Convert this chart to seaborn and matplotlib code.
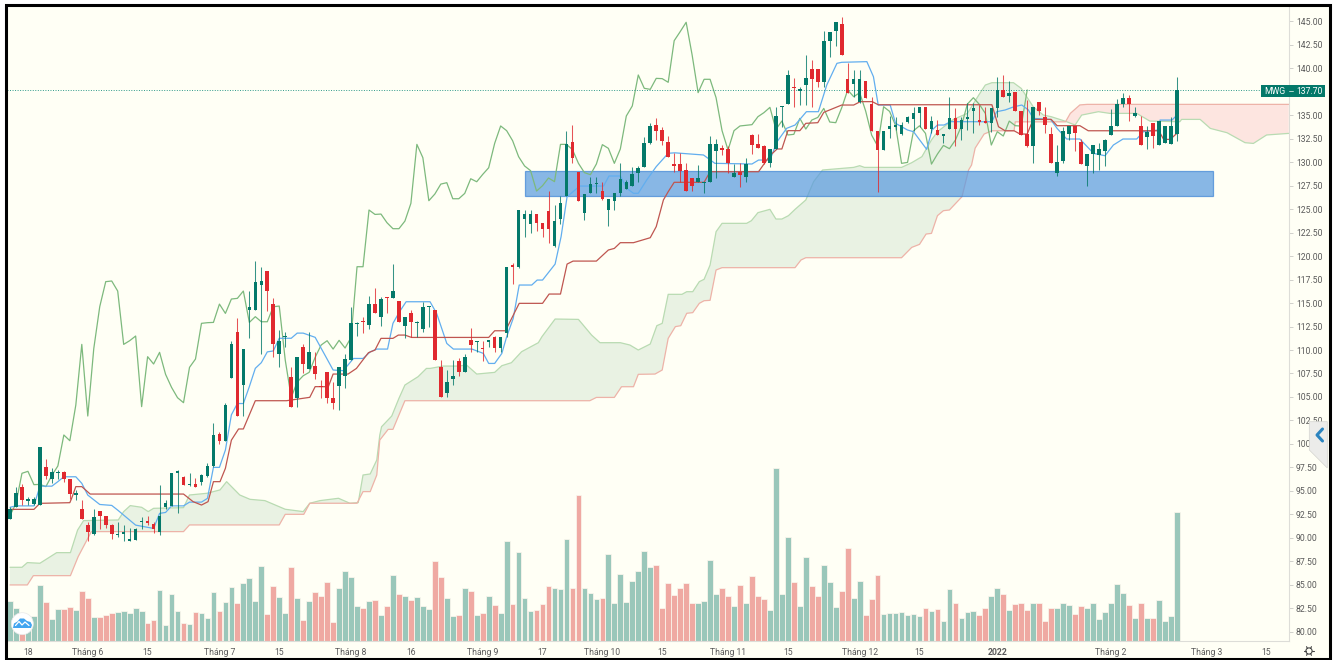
import numpy as np
import pandas as pd
import seaborn as sns
import matplotlib
matplotlib.use("Agg")
import matplotlib.pyplot as plt
import matplotlib.transforms as mtrans
from matplotlib.patches import Rectangle, Polygon, Circle
from matplotlib.lines import Line2D

# OHLC, one value per session
opens = [91.97,93.32,95.38,93.95,93.60,93.49,97.58,96.26,96.87,97.01,96.30,94.56,93.03,91.36,90.41,92.89,92.36,91.36,90.30,90.41,
         89.69,89.77,91.65,91.75,91.51,90.65,93.32,93.39,96.94,96.44,95.59,95.73,95.98,96.62,97.65,101.02,100.31,106.98,111.95,106.27,
         114.26,114.26,116.89,118.41,114.90,109.54,111.35,107.09,104.92,110.28,107.98,108.33,106.16,107.62,104.85,106.16,107.26,108.93,112.76,113.05,
         112.66,114.89,113.55,115.60,115.57,115.21,112.55,113.94,112.87,112.27,114.54,114.26,108.22,105.45,106.94,108.86,107.69,111.06,110.85,110.24,
         110.89,111.34,110.21,111.77,119.01,118.80,123.91,123.41,124.44,123.56,124.83,121.07,123.95,126.43,132.11,128.92,124.55,126.68,127.67,126.93,
         124.91,125.90,126.68,127.18,127.46,128.88,129.45,132.08,133.93,133.43,132.12,129.81,129.81,129.17,128.28,127.93,127.79,127.93,131.16,131.48,
         131.41,128.46,128.92,128.39,132.93,131.90,131.73,129.88,131.41,135.84,136.16,138.01,137.62,138.22,139.89,139.89,138.51,142.91,143.97,144.68,
         138.83,138.33,136.45,138.68,136.20,133.36,131.30,133.54,133.79,133.00,134.28,134.57,135.28,135.84,133.54,133.39,132.83,133.54,134.67,133.53,
         134.56,135.45,134.49,134.38,134.21,135.80,137.69,137.05,137.44,135.45,133.00,131.72,136.37,134.85,132.96,128.88,130.12,132.96,133.88,132.11,
         129.59,130.87,130.76,131.22,132.93,133.85,136.19,136.87,134.92,133.85,132.64,134.14,131.83,132.08,131.93,132.96]
closes = [93.03,94.74,94.03,94.10,94.10,99.63,96.58,96.97,97.01,96.30,94.66,94.74,91.97,90.65,92.18,92.36,91.36,90.41,90.44,90.62,
          89.84,90.97,91.79,91.61,90.97,92.36,93.67,96.87,97.08,95.66,95.69,95.45,96.65,97.65,100.95,100.34,104.14,110.60,102.97,110.14,
          114.62,117.28,117.35,116.28,110.60,110.99,111.49,103.97,109.29,108.51,109.75,107.41,106.02,104.92,104.39,108.15,109.04,112.84,112.91,112.94,
          114.89,113.90,115.43,115.50,116.28,112.94,113.55,113.01,113.01,114.61,114.68,108.93,104.95,106.59,107.26,107.62,109.22,110.53,110.99,110.10,
          111.03,110.21,111.34,118.87,118.87,124.91,124.44,124.48,123.56,122.92,122.92,123.73,125.62,131.90,130.48,125.90,126.61,127.67,127.82,126.11,
          126.11,126.68,128.24,127.92,128.70,129.41,132.01,133.86,133.36,132.29,130.59,129.60,129.10,126.93,127.50,128.32,127.93,131.90,131.90,131.34,
          129.88,128.89,128.67,129.81,131.87,131.48,129.88,131.41,134.92,135.99,139.29,137.87,137.76,138.93,138.90,138.51,142.94,143.90,144.90,141.42,
          137.41,138.83,138.83,136.87,133.36,131.30,133.36,133.86,133.93,134.00,134.85,135.28,135.84,133.50,134.39,132.90,132.97,134.67,133.53,134.49,
          134.77,135.73,134.28,134.21,135.80,137.69,136.98,137.40,135.45,132.89,131.72,135.91,135.41,133.92,129.88,129.98,133.35,133.88,133.07,129.80,
          130.87,131.79,131.44,132.36,133.85,136.19,136.87,136.16,135.20,131.83,133.25,132.79,134.38,133.89,133.85,137.70]
highs = [93.32,95.38,95.69,94.31,94.31,99.63,98.36,97.40,97.22,97.15,96.30,95.09,94.03,91.72,93.03,92.89,92.36,91.47,91.72,91.36,
         91.01,91.08,92.25,92.32,91.72,95.62,94.03,96.87,97.22,96.58,96.94,96.33,96.79,97.93,102.19,101.30,104.32,110.99,113.37,110.14,
         116.32,119.48,118.88,118.41,115.50,112.13,111.95,108.23,109.29,110.64,111.92,109.82,106.80,107.62,106.55,108.15,109.57,114.61,112.94,113.55,
         115.75,116.56,115.68,115.68,119.12,115.21,113.55,114.26,113.08,115.14,114.72,114.26,108.93,107.87,108.93,109.11,109.53,112.30,110.99,110.95,
         111.06,111.49,111.42,118.87,119.23,124.91,124.91,124.91,124.44,123.56,126.96,125.44,126.40,133.32,133.96,128.92,126.61,128.38,128.46,127.85,
         126.11,126.75,129.95,128.10,129.45,129.59,132.72,134.14,134.67,133.71,132.79,130.95,130.95,129.88,128.28,129.70,127.93,132.79,132.44,131.83,
         131.73,129.81,129.88,130.48,133.00,132.97,131.83,131.41,135.92,135.99,139.82,138.93,138.05,141.42,140.89,139.89,144.01,143.90,144.90,145.43,
         140.60,139.82,139.82,138.68,136.91,133.36,133.36,134.92,134.85,134.32,134.92,135.92,135.84,135.84,134.92,134.50,132.97,136.91,135.73,134.85,
         136.27,136.27,136.09,135.91,135.80,139.03,139.28,138.68,137.44,135.45,136.62,135.91,136.44,135.91,133.78,131.83,133.78,133.88,133.88,132.47,
         130.87,131.79,132.01,132.43,135.63,136.73,137.40,137.15,135.91,134.92,133.85,134.14,134.38,133.89,134.85,139.11]
lows = [91.97,93.24,93.49,93.49,93.49,93.49,96.23,95.80,96.23,95.98,94.10,94.03,91.97,89.69,90.30,90.97,91.01,89.84,90.12,89.69,
        89.69,89.77,90.90,91.36,90.55,90.30,93.03,93.39,92.61,95.66,95.52,95.38,95.59,96.44,97.58,99.99,100.31,106.98,102.97,102.97,
        111.24,114.26,109.57,114.19,109.22,108.23,110.36,103.97,103.97,107.59,107.98,106.88,104.85,104.32,103.68,103.61,105.91,108.93,111.49,111.84,
        112.23,113.90,112.55,113.90,115.57,112.94,111.24,111.42,111.42,111.95,112.48,108.93,104.95,104.95,106.27,107.23,107.69,109.82,109.82,108.86,
        110.35,109.82,109.75,111.34,117.02,118.69,121.99,122.42,122.70,122.07,121.36,121.00,123.41,126.40,129.95,125.90,123.84,126.68,126.68,125.97,
        123.20,124.91,126.40,127.14,127.46,127.92,129.45,131.94,132.37,131.83,130.52,128.99,127.93,126.93,126.93,127.89,126.76,127.93,128.35,130.77,
        128.89,128.39,127.40,127.89,130.87,131.48,129.81,129.45,131.41,133.79,136.16,135.84,136.09,136.09,135.92,137.97,137.97,141.17,142.38,141.42,
        137.34,136.98,136.34,136.80,133.36,126.79,131.30,132.54,133.43,132.90,134.14,133.36,133.79,133.50,133.08,132.90,132.01,133.54,131.72,132.36,
        133.43,133.07,133.96,134.21,133.25,134.85,136.98,136.44,135.45,132.89,131.65,129.88,135.02,133.07,129.88,128.53,129.88,132.36,131.22,129.80,
        127.46,128.88,129.17,129.59,132.93,133.85,135.91,134.38,134.85,131.83,131.37,131.47,131.83,132.01,131.93,132.29]
volumes = [119,100,70,60,75,168,117,66,96,96,102,92,151,130,72,72,77,83,87,89,
           83,100,89,55,62,153,49,141,89,55,51,87,83,68,147,89,117,162,115,174,
           189,121,225,81,166,132,83,221,128,64,119,147,136,177,57,158,210,193,104,100,
           119,123,78,106,198,141,134,123,132,104,96,240,192,128,75,77,159,151,77,83,
           134,108,83,300,111,268,129,89,93,111,164,159,155,306,158,439,159,144,125,129,
           260,113,200,117,179,209,270,223,228,100,174,138,159,174,113,113,119,243,142,159,
           136,104,168,115,194,134,126,93,520,142,311,177,104,251,164,134,228,177,102,151,
           279,129,179,77,126,198,81,85,85,87,79,81,75,98,89,96,59,155,113,70,
           87,91,79,100,136,159,140,93,111,113,93,113,113,59,100,100,115,108,81,104,
           98,115,66,87,113,172,144,108,68,115,70,70,123,59,75,386]

# ichimoku lines, vertices as (bar, price)
tenkan_x = [0,1,4,5,7,8,9,11,12,13,15,17,18,21,24,25,26,27,29,30,32,33,34,35,36,37,38,39,40,41,42,43,44,45,47,48,49,51,54,55.7,57.4,59,60.2,61.3,63.1,64,65.1,66.2,70.2,71.3,73,74.1,77.2,79.1,80,81,82.2,83,84.1,85.1,87.2,88.1,89,91.1,92.1,93.1,95.2,99.2,100.1,102,103.1,104.2,105,106.4,108,110,111.1,115.9,117.8,124,125.1,127,128.2,129.8,131.2,133.1,135.1,136.5,138.2,139,143.2,144.3,145.1,147.1,148,150,151,153.2,154.1,155,156.1,157.2,163,164.1,164.9,166.3,167.8,169.1,170.2,171,173.9,175,176.6,178.8,181.1,183,184.4,186,188.3,189.4,192,192.2,194.2,195]
tenkan_y = [93.25,93.4,93.4,95.5,95.5,95.98,96.5,96.5,95.8,94.55,93.55,93.45,92.95,91.35,91.0,92.6,92.7,93.4,93.4,93.8,93.8,94.2,97.5,97.5,99.35,103.1,104.3,104.3,106.1,108.05,108.65,109.8,109.9,111.25,111.25,111.8,111.8,111.35,107.87,107.8,109.1,109.1,109.8,110.1,110.1,112.84,114.08,115.14,115.14,113.9,110.7,110.1,110.1,109.64,108.57,108.57,109.64,111.4,113.37,116.92,116.92,117.45,117.45,119.15,122.07,126.32,127.46,127.46,128.53,128.53,127.2,126.69,126.69,128.1,129.53,130.95,131,130.77,129.88,129.81,130.23,130.23,132.19,133.61,133.96,135.38,135.38,138.22,140.53,140.64,140.71,139.11,136.09,136.09,134.14,133.43,133.25,131.37,133.43,133.96,133.96,134.32,134.31,134.31,135.38,135.56,135.91,136.09,135.56,134.67,134.56,133.6,132.47,132.47,130.94,130.69,131.83,132.47,132.47,133.25,133.43,134.49,134.49,135.0]
kijun_x = [0,4,5,10,10.3,11,12,13.4,29,30.6,32,33.1,34,35.1,36,37,38.2,39,41,46.2,50.1,51,53.2,54,56.5,57.9,59.9,61,62,64,64.9,66,67.1,80,81,82.8,85.1,89,90.1,92,93.1,94.1,98,100,101,102,104.2,107,108,109.2,110,111,116,117,125.1,127,128.2,129,130,132,133,135,136,139,141,142.1,144.1,145.1,164.1,165.2,166.3,167.8,168.8,170,171,174,175,178.8,180.2,192,192.8,193.9,195]
kijun_y = [93.03,93.03,93.67,93.74,94.2,95.45,95.45,94.66,94.66,93.85,93.49,93.85,95.98,95.98,97.4,100.4,101.59,101.59,104.6,104.6,104.96,106.1,106.09,107.44,107.44,108.04,109.71,110,111.24,111.24,111.59,111.59,111.34,111.34,112.05,112.05,114.97,114.97,115.96,115.96,119.15,119.47,119.47,120.65,120.82,121.43,121.43,121.96,123.14,125.98,126.86,127.86,127.86,128.99,128.99,130.7,131.41,131.41,133.36,133.36,134.14,134.21,135.31,136.09,136.09,136.45,136.45,136.12,136.12,133.78,133.35,133.35,133,133,134.56,134.56,133.89,133.89,133.35,133.35,132.43,132.43,133.07]
span_a_x = [0,2,2.9,5,7.8,10.1,11.3,12.3,18.1,19,20.1,22,23.1,24,29,30,32.9,35.1,36.2,38.4,40.1,42.6,46,49,50.1,51.8,54.9,56.8,58.2,59,60.2,61.3,61.8,62.1,63.8,65,66,68.2,69.6,70.2,72.4,74.9,76.3,78,81,82.2,83.8,85.5,88.3,88.9,91.1,95,97.2,98.6,102,103.6,105,107,108.1,109,110,112.3,113.1,114.1,115.2,116,117,118,119,123.1,123.9,125,127,128,129,130.1,131.2,133,134.3,135.8,141,142,142.8,149,150.7,152.4,154,155,157.7,160,161.9,163,164.1,167.7,169,171,172.7,174,176.3,178,179.1,181.9,183.8,188.3,190.5,195.5,195.8,198.9,200.6,203.4,206.4,207.8,210,213.7]
span_a_y = [86.86,86.86,87.36,87.29,88.42,88.42,90.83,91.83,91.9,92.79,93.43,93.25,92.79,93.14,93.21,94.56,94.74,95.1,95.98,94.56,94.1,93.96,93.04,92.79,93.68,93.96,94.21,93.68,93.75,96.69,96.8,98.29,100.94,101.83,102.97,104.85,106.27,107.16,108.04,108.04,108.29,108.29,108.4,107.44,107.62,108.33,108.65,109.82,110.78,111.42,113.3,113.26,111.59,110.78,110.78,110.53,110,110.64,112.59,112.84,115.93,115.93,116.21,116.21,117.28,117.53,119.05,122.6,123.49,123.49,123.77,124.63,124.98,123.95,123.95,124.31,124.98,125.98,127.93,129.17,129.45,129.63,129.45,129.45,129.95,130.59,132.37,133.25,134.57,135.2,137.15,138.22,138.47,138.47,137.86,135.91,135.02,134.85,134.38,133.96,135.02,135.38,135.2,135.2,134.38,134.31,134.56,134.56,133.6,133.14,132.08,132.0,132.9,133.07]
span_b_x = [0,2.9,3.9,10.1,11.4,13.6,29,30,45,46,49.1,50.1,58,59,60.2,61.3,61.8,63.2,64,66,96.9,98,101,102.2,104.2,105,107.8,109,110,111.2,112.1,113.1,114.1,115.2,116,117,118,119,131.2,132.2,133,149,150.7,152,153.1,154,155,156,157,159.1,160.2,160.7,161.3,162.8,164.1,167.8,168,176.4,177.2,178.8,180,213.7]
span_b_y = [84.98,84.98,85.97,85.97,88,90.66,90.66,91.37,91.37,92.5,92.5,93.68,93.68,94.92,94.92,96.69,100.41,101.55,101.55,104.6,104.6,104.95,104.95,106.09,106.09,107.41,107.44,107.87,111.24,112.49,112.59,113.91,113.98,114.97,115.25,115.29,118.52,118.77,118.77,119.59,119.83,119.83,120.93,121.25,122.35,122.42,124.31,124.84,124.91,126.33,129.17,129.7,131.5,133,133.35,133.35,134.3,134.3,135.2,136.1,136.16,136.16]

price_ticks = np.arange(80, 145.1, 2.5)
date_pos = [3,13,23,35,45,57,67,79,89,99,109,120,130,142,152,165,184,200,210]
date_labels = ["18","Tháng 6","15","Tháng 7","15","Tháng 8","16","Tháng 9","17","Tháng 10","15","Tháng 11","15","Tháng 12","15","2022","Tháng 2","Tháng 3","15"]

BG = "#FFFFF5"
UP = "#04796A"
DOWN = "#E0292F"

sns.set_theme(style="white")
plt.rcParams["font.family"] = ["Roboto", "DejaVu Sans"]

W, H = 1338, 660
fig = plt.figure(figsize=(W / 100, H / 100), dpi=100, facecolor="white")
px = mtrans.Affine2D().scale(1 / W, -1 / H).translate(0, 1) + fig.transFigure

fig.add_artist(Rectangle((5, 5), 1325, 653, transform=px, facecolor=BG, edgecolor="none", zorder=-1))

rect = [7 / W, 1 - 641 / H, (1288.7 - 7) / W, 634 / H]
ax_vol = fig.add_axes(rect, zorder=1)
ax = fig.add_axes(rect, zorder=2)
ax.patch.set_alpha(0)
ax_vol.patch.set_alpha(0)

x_range = (-0.5, 213.7)

# volume, one call per direction so the bars stay centred on their session
bars = np.arange(len(closes))
df = pd.DataFrame({"bar": bars, "vol": volumes,
                   "dir": ["up" if c >= o else "down" for o, c in zip(opens, closes)]})
for d, col in (("up", "#9AC7BA"), ("down", "#EFA9A2")):
    sns.barplot(data=df[df["dir"] == d], x="bar", y="vol", native_scale=True, width=0.96,
                color=col, saturation=1, linewidth=0.55, edgecolor="#FBF6EC", ax=ax_vol)
ax_vol.set_xlim(*x_range)
ax_vol.set_ylim(0, 634 * 3)
ax_vol.axis("off")

# cloud
a_x, a_y, b_x, b_y = map(np.array, (span_a_x, span_a_y, span_b_x, span_b_y))
cross = 176.4
ma, mb = a_x <= cross, b_x <= cross
ax.fill(np.r_[a_x[ma], b_x[mb][::-1]], np.r_[a_y[ma], b_y[mb][::-1]], color="#E9F2E3", lw=0, zorder=1)
ma, mb = a_x >= cross - 0.1, b_x >= cross
ax.fill(np.r_[a_x[ma], b_x[mb][::-1]], np.r_[a_y[ma], b_y[mb][::-1]], color="#FDE5E0", lw=0, zorder=1)
sns.lineplot(x=a_x, y=a_y, estimator=None, sort=False, color="#B9DBB2", linewidth=0.9, zorder=1.2, ax=ax)
sns.lineplot(x=b_x, y=b_y, estimator=None, sort=False, color="#EDB3A8", linewidth=0.9, zorder=1.2, ax=ax)

# blue zone
ax.add_patch(Rectangle((86.08, 126.43), 114.92, 2.66, facecolor="#5B9BE0", alpha=0.72,
                       edgecolor="#3F86D6", lw=0.9, zorder=2))

# lagging line is the close drawn 25 sessions back
sns.lineplot(x=bars[:-25], y=closes[25:], estimator=None, sort=False, color="#7DB97D", linewidth=0.9, zorder=3, ax=ax)
sns.lineplot(x=tenkan_x, y=tenkan_y, estimator=None, sort=False, color="#62AEEF", linewidth=0.9, zorder=3, ax=ax)
sns.lineplot(x=kijun_x, y=kijun_y, estimator=None, sort=False, color="#BF5650", linewidth=0.9, zorder=3, ax=ax)

# candles
colors = [UP if d == "up" else DOWN for d in df["dir"]]
body_low = np.minimum(opens, closes)
body_h = np.abs(np.array(closes) - np.array(opens))
ax.vlines(bars, lows, highs, colors=colors, linewidth=0.75, alpha=0.8, zorder=4)
ax.bar(bars, body_h, bottom=body_low, width=0.6, color=colors, linewidth=0, zorder=5)

# last price line
ax.axhline(closes[-1], color="#2F9A8A", lw=0.7, ls=(0, (1, 1.6)), zorder=3)

ax.set_xlim(*x_range)
ax.set_ylim(79.01, 146.53)
ax.yaxis.tick_right()
ax.set_yticks(price_ticks)
ax.set_yticklabels([f"{v:.2f}" for v in price_ticks])
ax.set_xticks(date_pos)
ax.set_xticklabels(date_labels)
ax.tick_params(axis="y", length=3.2, width=0.6, color="#C9C9C4", labelsize=6.2, labelcolor="#5A5A5A", pad=2)
ax.tick_params(axis="x", length=2.2, width=0.6, color="#C9C9C4", labelsize=6.2, labelcolor="#5A5A5A", pad=3)
for lab in ax.get_xticklabels():
    if lab.get_text() == "2022":
        lab.set_fontweight("bold")
for side in ("top", "left"):
    ax.spines[side].set_visible(False)
for side in ("right", "bottom"):
    ax.spines[side].set_color("#DDDDD8")
    ax.spines[side].set_linewidth(0.8)

# price tag
tag_y = 91
fig.add_artist(Rectangle((1260.7, 85), 64.5, 11.7, transform=px, facecolor="#04796A", edgecolor="none", zorder=5))
fig.add_artist(Line2D([1288.5, 1293], [tag_y, tag_y], transform=px, color="#CFE5DF", lw=0.6, zorder=6))
fig.text(1274.5, tag_y, "MWG", transform=px, color="white", fontsize=6.2, ha="center", va="center", zorder=6)
fig.text(1296, tag_y, f"{closes[-1]:.2f}", transform=px, color="white", fontsize=6.2, ha="left", va="center", zorder=6)

# logo
fig.add_artist(Circle((22.3, 623.7), 11, transform=px, facecolor="white", edgecolor="#E8E8E8", lw=0.5, zorder=6))
fig.add_artist(Polygon([(13, 628), (14, 623.5), (17.5, 621.5), (20, 618.5), (24, 618.5), (27, 621), (30.5, 622), (32, 625), (31, 628)],
                       transform=px, facecolor="#42A5F0", edgecolor="none", zorder=7))
fig.add_artist(Line2D([15.5, 19, 22, 25, 29], [625.5, 621.5, 625, 622, 625.5], transform=px, color="white", lw=0.9, zorder=8))

# side handle
fig.add_artist(Polygon([(1309.3, 421.7), (1327.3, 421.7), (1327.3, 468), (1309.3, 450)], transform=px,
                       facecolor="#ECECEA", edgecolor="#D4D4D0", lw=0.5, zorder=6))
fig.add_artist(Line2D([1322.5, 1317, 1322.5], [429, 435, 441], transform=px, color="#2B84BF", lw=2.2, zorder=7))

# settings gear
fig.add_artist(Circle((1309, 651), 3.1, transform=px, facecolor="none", edgecolor="#444444", lw=0.8, zorder=6))
for ang in np.arange(0, 360, 60):
    c, s = np.cos(np.radians(ang)), np.sin(np.radians(ang))
    fig.add_artist(Line2D([1309 + 3 * c, 1309 + 5 * c], [651 + 3 * s, 651 + 5 * s], transform=px, color="#444444", lw=0.8, zorder=6))

# outer frame
fig.add_artist(Rectangle((6, 5), 1324, 653.5, transform=px, facecolor="none", edgecolor="black", lw=2.2, zorder=10))

fig.savefig("out.png", dpi=100)
